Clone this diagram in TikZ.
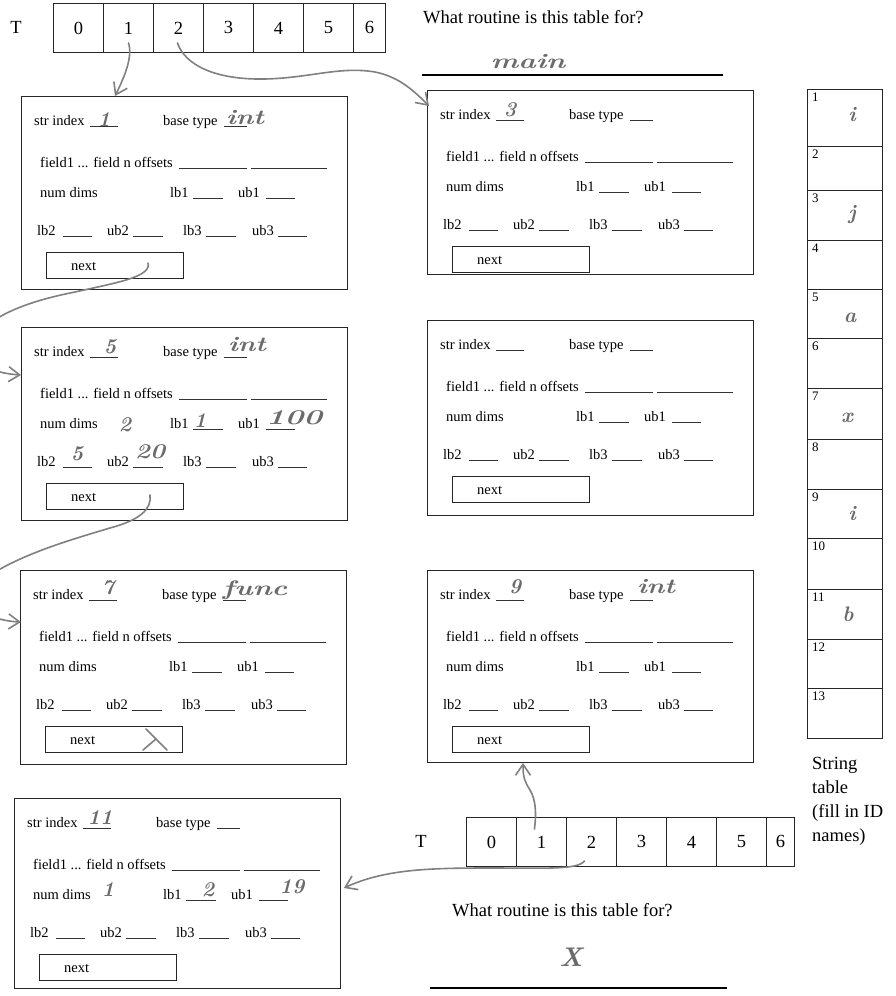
\documentclass[tikz,border=0pt]{standalone}
\usepackage{fontspec}
\setmainfont{Liberation Serif}
\usetikzlibrary{arrows.meta,calc}

\newcommand\boxfont{\fontsize{14.5}{17}\selectfont}
\newcommand\bigfont{\fontsize{18.5}{22}\selectfont}
\newcommand\smallnum{\fontsize{13}{14}\selectfont}
\newcommand\handfont{\fontfamily{lmr}\fontseries{bx}\fontshape{it}\fontsize{21}{24}\selectfont}
\newcommand\wide[2]{\scalebox{#1}[1]{#2}}

\tikzset{
  frame/.style={draw=black!85, line width=0.9pt, inner sep=0pt},
  lbl/.style={anchor=base west, inner sep=0pt, font=\boxfont},
  blank/.style={black!80, line width=0.6pt},
  cell/.style={frame, anchor=north west, minimum height=49pt, font=\bigfont},
  strcell/.style={frame, anchor=north west, minimum width=75pt},
  numlbl/.style={anchor=north west, inner sep=0pt, font=\smallnum},
  pen/.style={black!50, line width=1.6pt, line cap=round, line join=round},
  penarrow/.style={pen, -{Straight Barb[length=11pt,width=15pt]}},
  hw/.style={text=black!58, font=\handfont, inner sep=0pt},
  bigtext/.style={anchor=base west, inner sep=0pt, font=\bigfont},
}

% one type-table record: name, left x, top y, height
\newcommand\recbox[4]{%
\begin{scope}[shift={(#2,#3)}]
\node[frame, anchor=north west, minimum width=326pt, minimum height=#4pt] (#1) at (0,0) {};
\node[lbl] at (13,29) {str index};
\draw[blank] (69,30) -- (97,30);
\node[lbl] at (142,29) {base type};
\draw[blank] (203,30) -- (226,30);
\node[lbl] at (19,71) {field1 ... field n offsets};
\draw[blank] (158,72) -- (226,72);
\draw[blank] (230,72) -- (306,72);
\node[lbl] at (19,101) {num dims};
\node[lbl] at (149,101) {lb1};
\draw[blank] (172,102) -- (202,102);
\node[lbl] at (217,101) {ub1};
\draw[blank] (245,102) -- (274,102);
\node[lbl] at (16,139) {lb2};
\draw[blank] (42,140) -- (71,140);
\node[lbl] at (86,139) {ub2};
\draw[blank] (112,140) -- (142,140);
\node[lbl] at (162,139) {lb3};
\draw[blank] (185,140) -- (215,140);
\node[lbl] at (231,139) {ub3};
\draw[blank] (257,140) -- (286,140);
\node[frame, anchor=north west, minimum width=137pt, minimum height=26pt] (#1next) at (25,156) {};
\node[lbl] at (50,174) {next};
\end{scope}}

\begin{document}
\begin{tikzpicture}[x=1pt, y=-1pt]
\useasboundingbox (0,0) rectangle (896,996);

% ---- upper hash table
\node[font=\bigfont, inner sep=0pt] (TA) at (16,27) {T};
\node[cell, minimum width=50pt] (tA0) at (53,3) {0};
\node[cell, minimum width=50pt] (tA1) at (103,3) {1};
\node[cell, minimum width=50pt] (tA2) at (153,3) {2};
\node[cell, minimum width=50pt] (tA3) at (203,3) {3};
\node[cell, minimum width=50pt] (tA4) at (253,3) {4};
\node[cell, minimum width=50pt] (tA5) at (303,3) {5};
\node[cell, minimum width=32pt] (tA6) at (353,3) {6};

\node[bigtext] (qA) at (423,23) {What routine is this table for?};
\draw[line width=1.1pt] (422,75) -- (723,75);
\node[hw] (ansA) at (528,62) {\wide{1.4}{main}};

% ---- records
\recbox{boxA}{21}{96}{193}
\recbox{boxB}{427}{90}{184}
\recbox{boxC}{21}{327}{193}
\recbox{boxD}{427}{320}{195}
\recbox{boxE}{20}{570}{194}
\recbox{boxF}{427}{570}{192}
\recbox{boxG}{14}{798}{190}

% ---- pencilled entries
\node[hw] at (104,120) {1};
\node[hw] at (245,118) {\wide{1.3}{int}};
\node[hw] at (510,110) {3};
\node[hw] at (110,347) {5};
\node[hw] at (247,345) {\wide{1.3}{int}};
\node[hw] at (125,425) {2};
\node[hw] at (200,421) {1};
\node[hw] at (294,418) {\wide{1.5}{100}};
\node[hw] at (77,454) {5};
\node[hw] at (150,452) {\wide{1.2}{20}};
\node[hw] at (108,588) {7};
\node[hw] at (255,590) {\wide{1.4}{func}};
\node[hw] at (515,587) {9};
\node[hw] at (656,586) {\wide{1.3}{int}};
\node[hw] at (100,818) {11};
\node[hw] at (108,890) {1};
\node[hw] at (208,890) {2};
\node[hw] at (292,887) {19};
% null pointer mark
\draw[pen] (146,729) -- (167,750);
\draw[pen] (143,750) -- (156,739);

% ---- string table
\node[strcell, minimum height=57pt] (s1) at (807,89) {};
\node[strcell, minimum height=44pt] (s2) at (807,146) {};
\node[strcell, minimum height=50pt] (s3) at (807,190) {};
\node[strcell, minimum height=49pt] (s4) at (807,240) {};
\node[strcell, minimum height=49pt] (s5) at (807,289) {};
\node[strcell, minimum height=50pt] (s6) at (807,338) {};
\node[strcell, minimum height=51pt] (s7) at (807,388) {};
\node[strcell, minimum height=50pt] (s8) at (807,439) {};
\node[strcell, minimum height=49pt] (s9) at (807,489) {};
\node[strcell, minimum height=51pt] (s10) at (807,538) {};
\node[strcell, minimum height=50pt] (s11) at (807,589) {};
\node[strcell, minimum height=49pt] (s12) at (807,639) {};
\node[strcell, minimum height=50pt] (s13) at (807,688) {};
\foreach \k in {1,...,13} {
  \node[numlbl] at ($(s\k.north west)+(5,4)$) {\k};
}
\node[hw] at (852,115) {i};
\node[hw] at (852,215) {j};
\node[hw] at (850,318) {a};
\node[hw] at (847,418) {x};
\node[hw] at (852,513) {i};
\node[hw] at (848,614) {b};
\node[bigtext] at (812,769) {String};
\node[bigtext] at (812,793) {table};
\node[bigtext] at (812,817) {(fill in ID};
\node[bigtext] at (812,841) {names)};

% ---- lower hash table
\node[font=\bigfont, inner sep=0pt] (TB) at (421,841) {T};
\node[cell, minimum width=50pt] (tB0) at (466,817) {0};
\node[cell, minimum width=50pt] (tB1) at (516,817) {1};
\node[cell, minimum width=50pt] (tB2) at (566,817) {2};
\node[cell, minimum width=50pt] (tB3) at (616,817) {3};
\node[cell, minimum width=50pt] (tB4) at (666,817) {4};
\node[cell, minimum width=50pt] (tB5) at (716,817) {5};
\node[cell, minimum width=28pt] (tB6) at (766,817) {6};

\node[bigtext] (qB) at (452,916) {What routine is this table for?};
\draw[line width=1.1pt] (430,988) -- (727,988);
\node[hw, font=\fontfamily{lmr}\fontseries{bx}\fontshape{it}\fontsize{27}{30}\selectfont] (ansB) at (571,957) {X};

% ---- pencilled pointers
\draw[penarrow] ($(tA1.center)+(0,15)$) .. controls +(5,14) and +(8,-16) .. ($(boxA.north west)+(94,0)$);
\draw[penarrow] ($(tA2.center)+(-1,15)$) .. controls (185,65) and (215,80) .. (265,79)
  .. controls (310,78) and (340,66) .. (375,72) .. controls (400,77) and (415,92) .. ($(boxB.north west)+(2,16)$);
\draw[penarrow] ($(boxAnext.north west)+(102,11)$) .. controls +(4,14) and (115,283) .. (75,292)
  .. controls (35,300) and (5,310) .. (-20,330) .. controls (-40,348) and (-25,372) .. ($(boxC.north west)+(0,48)$);
\draw[penarrow] ($(boxCnext.north west)+(104,12)$) .. controls +(2,14) and (140,520) .. (110,528)
  .. controls (70,540) and (25,553) .. (-10,575) .. controls (-35,592) and (-25,620) .. ($(boxE.north west)+(1,52)$);
\draw[penarrow] ($(tB1.north)+(-7,12)$) .. controls +(2,-15) and (536,800) .. (530,790)
  .. controls (525,782) and (523,778) .. ($(boxF.south west)+(96,0)$);
\draw[penarrow] ($(tB2.south)+(-7,-6)$) .. controls (578,870) and (545,868) .. (490,868)
  .. controls (430,868) and (385,869) .. ($(boxG.north east)+(3,90)$);
\end{tikzpicture}
\end{document}
